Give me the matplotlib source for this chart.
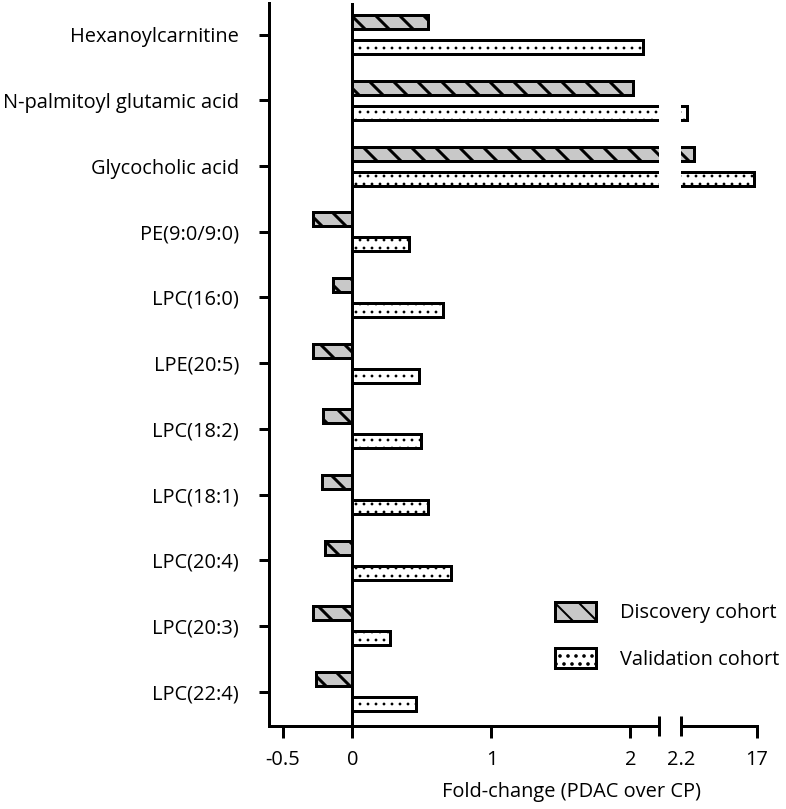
import matplotlib
matplotlib.use("Agg")
import matplotlib.pyplot as plt
from matplotlib.patches import Patch
import numpy as np

plt.rcParams['font.family'] = ['Open Sans', 'DejaVu Sans']

categories = ["Hexanoylcarnitine", "N-palmitoyl glutamic acid", "Glycocholic acid",
              "PE(9:0/9:0)", "LPC(16:0)", "LPE(20:5)", "LPC(18:2)", "LPC(18:1)",
              "LPC(20:4)", "LPC(20:3)", "LPC(22:4)"]
discovery = [0.54, 2.02, 4.7, -0.28, -0.14, -0.28, -0.21, -0.22, -0.20, -0.28, -0.26]
validation = [2.09, 3.4, 16.4, 0.41, 0.65, 0.48, 0.49, 0.54, 0.71, 0.27, 0.46]
left_ticks = [-0.5, 0, 1, 2]
left_ticklabels = ["-0.5", "0", "1", "2"]
right_ticks = [2.2, 17]
right_ticklabels = ["2.2", "17"]
left_range = (-0.6, 2.205)
right_range = (2.2, 17)
series_labels = ["Discovery cohort", "Validation cohort"]

W, H, DPI = 786, 809, 144
fig = plt.figure(figsize=(W / DPI, H / DPI), dpi=DPI)

def rect(x0, x1, y0, y1):
    return [x0 / W, 1 - y1 / H, (x1 - x0) / W, (y1 - y0) / H]

axL = fig.add_axes(rect(269, 659, 3, 726))
axR = fig.add_axes(rect(681, 757, 3, 726), sharey=axL)

y = np.arange(len(categories))
disc = np.array(discovery)
vali = np.array(validation)
off = 0.19
bh = 0.213
FS = 10
LW = 1.5
disc_color = "#c8c8c8"

def draw_bars(ax, dmask, vmask):
    with plt.rc_context({'hatch.linewidth': 1.5}):
        b1 = ax.barh(y[dmask] - off, disc[dmask], height=bh, color=disc_color,
                     edgecolor="black", linewidth=LW, hatch="\\\\", zorder=2)
    with plt.rc_context({'hatch.linewidth': 0.6}):
        b2 = ax.barh(y[vmask] + off, vali[vmask], height=bh, color="white",
                     edgecolor="black", linewidth=LW, hatch="...", zorder=2)
    for p in b1.patches:
        if hasattr(p, "set_hatch_linewidth"):
            p.set_hatch_linewidth(1.5)
    for p in b2.patches:
        if hasattr(p, "set_hatch_linewidth"):
            p.set_hatch_linewidth(0.6)

draw_bars(axL, np.ones(len(y), bool), np.ones(len(y), bool))
draw_bars(axR, disc > right_range[0], vali > right_range[0])

axL.set_xlim(*left_range)
axR.set_xlim(*right_range)
axL.set_ylim(10.525, -0.484)

axL.axvline(0, color="black", lw=LW, zorder=4)

for ax in (axL, axR):
    ax.spines["top"].set_visible(False)
    ax.spines["right"].set_visible(False)
    ax.spines["bottom"].set_linewidth(LW)
    ax.spines["left"].set_linewidth(LW)
    ax.set_facecolor("none")

axR.spines["left"].set_visible(False)
axR.tick_params(axis="y", left=False, labelleft=False)

axL.set_yticks(y)
axL.set_yticklabels(categories, fontsize=FS)
axL.tick_params(axis="y", direction="out", length=5, width=LW, pad=10)

axL.set_xticks(left_ticks)
axL.set_xticklabels(left_ticklabels, fontsize=FS)
axL.tick_params(axis="x", which="major", direction="out", length=6, width=LW, pad=6)
axL.set_xticks([left_range[1]], minor=True)
axL.tick_params(axis="x", which="minor", direction="inout", length=10, width=LW)

axR.set_xticks([right_ticks[0]])
axR.set_xticklabels([right_ticklabels[0]], fontsize=FS)
axR.tick_params(axis="x", which="major", direction="inout", length=10, width=LW, pad=7)
axR.set_xticks([right_ticks[1]], minor=True)
axR.set_xticklabels([right_ticklabels[1]], minor=True, fontsize=FS)
axR.tick_params(axis="x", which="minor", direction="out", length=6, width=LW, pad=6)

fig.text(572 / W, 1 - 792 / H, "Fold-change (PDAC over CP)", fontsize=FS,
         ha="center", va="center")

handles = [Patch(facecolor=disc_color, edgecolor="black", linewidth=LW, hatch="\\\\"),
           Patch(facecolor="white", edgecolor="black", linewidth=LW, hatch="...")]
fs_px = FS * DPI / 72
leg = fig.legend(handles, series_labels, loc="upper left",
                 bbox_to_anchor=(555 / W, 1 - 602 / H), frameon=False,
                 fontsize=FS, borderpad=0, borderaxespad=0,
                 handlelength=41 / fs_px, handleheight=22 / fs_px,
                 handletextpad=24 / fs_px, labelspacing=1.25)

fig.savefig("out.png", dpi=DPI)
